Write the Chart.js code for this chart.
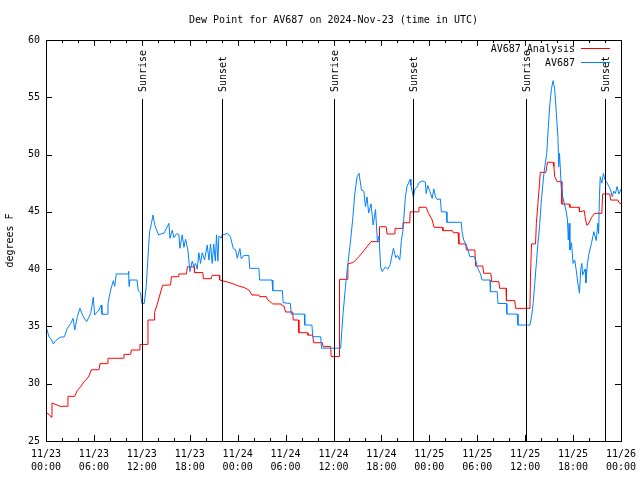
<!DOCTYPE html>
<html><head><meta charset="utf-8">
<script src="https://cdn.jsdelivr.net/npm/chart.js@4/dist/chart.umd.min.js"></script>
<style>html,body{margin:0;padding:0;background:#fff;}#wrap{width:640px;height:480px;position:relative;}</style>
</head><body><div id="wrap"><canvas id="c" width="640" height="480"></canvas></div>
<script>
const titleText = 'Dew Point for AV687 on 2024-Nov-23 (time in UTC)';
const yAxisTitle = 'degrees F';
const dayLabels = ['11/23', '11/24', '11/25', '11/26'];
const seriesNames = ['AV687 Analysis', 'AV687'];
const yTickValues = [25, 30, 35, 40, 45, 50, 55, 60];

const analysisHours = [0.0,0.4,0.67,0.75,1.75,2.67,2.75,3.59,3.92,4.34,4.76,5.1,5.38,5.67,6.63,6.76,7.67,7.76,9.7,9.76,10.6,10.7,11.7,11.76,12.7,12.77,13.55,13.6,13.93,14.14,14.6,15.6,15.7,16.6,16.64,17.6,17.7,18.55,18.6,19.65,19.7,20.7,20.8,21.7,21.75,22.7,23.5,24.1,24.8,25.4,25.8,26.66,26.75,27.6,27.7,28.4,29.45,29.6,29.8,30.0,30.9,30.95,31.6,31.67,32.7,32.8,33.4,33.5,34.6,34.7,35.65,35.7,36.7,36.75,37.7,37.8,38.5,39.2,39.8,40.7,41.7,41.76,42.6,42.7,43.6,43.7,44.6,44.7,45.55,45.6,46.6,46.7,47.6,47.9,48.35,48.6,49.6,49.7,50.9,51.0,51.6,51.7,52.55,52.65,53.7,53.8,54.7,54.8,55.7,55.8,56.7,56.8,57.6,57.66,58.7,58.8,60.6,60.66,60.8,61.3,61.4,61.6,61.8,61.9,62.6,62.7,62.8,63.5,63.6,63.7,64.0,64.5,64.6,65.5,65.6,66.75,66.8,67.4,67.5,67.7,67.9,68.3,68.7,69.6,69.7,70.6,70.7,71.6,71.75,72.0];
const analysisValues = [27.5,27.3,27.07,28.32,28.03,28.03,28.9,28.9,29.39,29.74,30.18,30.4,30.67,31.22,31.22,31.75,31.75,32.22,32.22,32.56,32.56,32.94,32.94,33.43,33.43,35.56,35.56,36.23,36.93,37.48,38.59,38.62,39.34,39.34,39.58,39.58,40.2,40.2,39.7,39.7,39.17,39.17,39.46,39.46,39.05,38.88,38.7,38.53,38.4,38.18,37.74,37.74,37.6,37.6,37.37,36.96,36.96,36.8,36.78,36.26,36.26,35.56,35.56,34.45,34.45,34.24,34.24,33.58,33.58,33.24,33.24,32.37,32.37,39.11,39.11,40.45,40.6,41.1,41.61,42.4,42.4,43.7,43.7,43.07,43.07,43.56,43.56,44.05,44.05,45.0,45.0,45.4,45.4,44.87,44.3,43.65,43.65,43.36,43.36,43.18,43.18,42.2,42.2,41.67,41.67,40.27,40.27,39.64,39.64,38.91,38.91,38.33,38.33,37.25,37.25,36.58,36.58,39.29,42.2,42.2,44.0,45.74,47.5,48.45,48.45,48.95,49.33,49.33,48.95,48.07,47.64,47.64,45.68,45.68,45.4,45.4,45.0,45.1,44.58,43.85,43.9,44.5,44.87,44.87,46.56,46.56,46.03,46.03,45.8,45.7];

const obsHours = [0.0,0.38,0.67,0.92,1.2,1.75,2.3,2.67,3.1,3.4,3.6,3.92,4.25,4.67,5.09,5.6,5.92,6.09,6.63,6.92,7.0,7.67,7.76,8.09,8.43,8.6,8.8,10.3,10.35,10.4,10.45,11.4,11.55,11.84,12.0,12.3,12.55,12.76,12.97,13.2,13.4,13.6,13.8,14.1,14.5,14.77,15.39,15.52,15.81,16.02,16.35,16.64,16.77,17.06,17.27,17.48,17.77,18.02,18.31,18.52,18.73,18.94,19.14,19.35,19.56,19.85,20.19,20.4,20.6,20.81,21.0,21.2,21.35,21.52,21.65,21.94,22.07,22.28,22.7,23.1,23.45,23.74,23.95,24.28,24.45,24.78,25.4,25.5,26.66,26.75,28.3,28.4,29.6,29.7,30.6,30.7,32.35,32.4,33.3,33.4,34.4,34.5,36.9,36.96,37.2,37.5,37.8,38.1,38.4,38.67,38.96,39.2,39.5,39.8,40.0,40.2,40.4,40.7,40.97,41.26,41.5,41.7,41.9,42.1,42.5,42.8,43.1,43.5,43.8,44.0,44.3,44.5,44.7,45.0,45.2,45.6,45.7,46.0,46.2,46.5,46.7,47.1,47.5,47.6,47.8,48.06,48.35,48.56,48.77,48.97,49.4,49.5,50.15,50.2,52.0,52.1,52.3,52.65,53.07,53.6,53.8,54.0,54.4,54.6,55.6,55.65,56.5,56.6,57.66,57.7,59.0,59.1,60.6,60.8,61.0,61.2,61.4,61.6,61.8,62.0,62.2,62.4,62.7,62.9,63.1,63.3,63.5,63.7,63.9,64.1,64.2,64.3,64.5,64.7,65.1,65.3,65.4,65.5,65.6,65.8,66.0,66.2,66.4,66.6,66.8,66.96,67.1,67.2,67.5,67.6,67.8,68.0,68.3,68.6,68.9,69.1,69.2,69.3,69.4,69.6,69.8,70.0,70.2,70.5,70.7,70.9,71.1,71.3,71.5,71.75,72.0];
const obsValues = [35.0,34.1,33.87,33.47,33.75,34.05,34.1,34.83,35.27,35.7,34.7,35.85,36.58,35.85,35.42,36.14,37.54,36.0,36.43,36.86,36.06,36.06,37.0,38.18,38.99,38.5,39.58,39.58,39.8,38.5,39.05,39.05,38.12,37.95,37.0,37.0,38.47,40.95,43.27,44.0,44.72,43.9,43.5,42.98,43.1,43.13,44.0,42.7,43.4,42.75,43.1,43.0,41.82,43.0,41.9,42.6,41.67,39.78,40.7,40.2,40.5,40.0,41.43,40.5,41.43,40.8,42.1,40.8,42.2,40.5,42.2,40.7,43.0,40.7,42.9,42.7,43.0,43.0,43.13,42.8,41.8,41.7,40.95,41.8,40.9,41.2,41.2,40.07,40.07,39.05,39.05,38.12,38.12,37.07,37.0,36.08,36.08,35.12,35.12,34.1,34.1,33.1,33.1,33.8,36.14,38.47,40.5,42.25,44.3,46.6,48.07,48.36,46.9,46.8,45.45,46.3,44.9,45.7,43.85,45.2,42.4,42.9,40.2,39.78,40.2,40.0,40.4,41.82,41.0,41.2,40.8,42.5,43.4,46.3,47.2,47.84,47.3,46.3,47.0,47.2,47.55,47.7,47.6,46.6,47.3,46.8,46.18,47.0,46.3,46.1,46.1,45.0,45.0,44.09,44.09,43.27,42.55,42.1,41.1,41.1,40.8,40.16,39.6,39.05,39.05,38.03,38.03,37.0,37.0,36.08,36.08,35.12,35.12,35.85,37.0,38.76,40.5,42.25,43.7,45.74,47.34,48.65,50.1,52.43,54.47,55.78,56.45,55.7,53.6,51.56,48.95,50.1,47.5,46.33,45.16,44.3,42.55,44.0,41.67,42.3,40.5,40.8,39.9,38.76,37.9,40.0,40.5,39.5,40.0,38.8,40.5,41.38,42.25,43.27,42.5,44.0,43.1,46.33,48.07,47.5,48.36,47.8,47.6,47.2,46.9,46.33,46.8,46.6,47.2,46.56,47.0];

const eventHours = [12.04, 22.05, 36.09, 45.98, 60.1, 70.0];
const eventLabels = ['Sunrise', 'Sunset', 'Sunrise', 'Sunset', 'Sunrise', 'Sunset'];

const FONT = '10px "DejaVu Sans Mono", "Liberation Mono", monospace';
const COL_OBS = 'rgb(0,128,255)';
const COL_ANA = 'rgb(255,0,0)';

function pts(xs, ys) { return xs.map((x, i) => ({x: x, y: ys[i]})); }
function pad2(n) { return (n < 10 ? '0' : '') + n; }

const decor = {
  id: 'decor',
  afterDatasetsDraw(chart) {
    const ctx = chart.ctx, a = chart.chartArea;
    const xs = chart.scales.x, ys = chart.scales.y;
    const L = Math.round(a.left), R = Math.round(a.right), T = Math.round(a.top), B = Math.round(a.bottom);
    ctx.save();
    ctx.strokeStyle = '#000'; ctx.lineWidth = 1;
    eventHours.forEach((h, i) => {
      const px = Math.round(xs.getPixelForValue(h)) + 0.5;
      ctx.beginPath(); ctx.moveTo(px, 99); ctx.lineTo(px, B); ctx.stroke();
    });
    ctx.strokeRect(L + 0.5, T + 0.5, R - L, B - T);
    for (let h = 0; h <= 72; h += 2) {
      const px = Math.round(xs.getPixelForValue(h)) + 0.5;
      const len = (h % 6 === 0) ? 6 : 3;
      ctx.beginPath();
      ctx.moveTo(px, B); ctx.lineTo(px, B - len);
      ctx.moveTo(px, T); ctx.lineTo(px, T + len);
      ctx.stroke();
    }
    yTickValues.forEach(v => {
      const py = Math.round(ys.getPixelForValue(v)) + 0.5;
      ctx.beginPath();
      ctx.moveTo(L, py); ctx.lineTo(L + 6, py);
      ctx.moveTo(R, py); ctx.lineTo(R - 6, py);
      ctx.stroke();
    });
    ctx.fillStyle = '#000';
    ctx.font = FONT;
    eventHours.forEach((h, i) => {
      const px = Math.round(xs.getPixelForValue(h)) + 1;
      ctx.save();
      ctx.translate(px, 92);
      ctx.rotate(-Math.PI / 2);
      ctx.textAlign = 'left'; ctx.textBaseline = 'middle';
      ctx.fillText(eventLabels[i], 0, 0);
      ctx.restore();
    });
    ctx.textAlign = 'center'; ctx.textBaseline = 'middle';
    ctx.fillText(titleText, (L + R) / 2, 20);
    ctx.save();
    ctx.translate(10, (T + B) / 2);
    ctx.rotate(-Math.PI / 2);
    ctx.fillText(yAxisTitle, 0, 0);
    ctx.restore();
    const legCols = [COL_ANA, COL_OBS];
    const legY = [48, 62];
    seriesNames.forEach((n, i) => {
      ctx.textAlign = 'right'; ctx.textBaseline = 'middle';
      ctx.fillStyle = '#000';
      ctx.fillText(n, 575, legY[i] + 1);
      ctx.strokeStyle = legCols[i];
      ctx.beginPath(); ctx.moveTo(581, legY[i] + 0.5); ctx.lineTo(610, legY[i] + 0.5); ctx.stroke();
    });
    ctx.restore();
  }
};

new Chart(document.getElementById('c'), {
  type: 'line',
  data: {
    datasets: [
      {label: seriesNames[1], data: pts(obsHours, obsValues), borderColor: COL_OBS, borderWidth: 1, pointRadius: 0, tension: 0, fill: false, order: 0},
      {label: seriesNames[0], data: pts(analysisHours, analysisValues), borderColor: COL_ANA, borderWidth: 1, pointRadius: 0, tension: 0, fill: false, order: 1}
    ]
  },
  options: {
    responsive: false, animation: false, devicePixelRatio: 1,
    layout: {padding: {left: 0, right: 19, top: 40, bottom: 0}},
    plugins: {legend: {display: false}, tooltip: {enabled: false}, title: {display: false}},
    scales: {
      x: {
        type: 'linear', min: 0, max: 72,
        afterFit: s => { s.height = 39; s.paddingLeft = 0; s.paddingRight = 0; },
        afterBuildTicks: s => { const t = []; for (let h = 0; h <= 72; h += 6) t.push({value: h}); s.ticks = t; },
        grid: {display: false, drawTicks: false}, border: {display: false},
        ticks: {
          autoSkip: false, maxRotation: 0, minRotation: 0, padding: 7, color: '#000',
          font: {family: '"DejaVu Sans Mono", "Liberation Mono", monospace', size: 10, lineHeight: 1.3},
          callback: v => [dayLabels[Math.floor(v / 24)], pad2(v % 24) + ':00']
        }
      },
      y: {
        min: 25, max: 60,
        afterFit: s => { s.width = 46; s.paddingTop = 0; s.paddingBottom = 0; },
        afterBuildTicks: s => { s.ticks = yTickValues.map(v => ({value: v})); },
        grid: {display: false, drawTicks: false}, border: {display: false},
        ticks: {padding: 6, color: '#000', font: {family: '"DejaVu Sans Mono", "Liberation Mono", monospace', size: 10}}
      }
    }
  },
  plugins: [decor]
});
</script></body></html>
